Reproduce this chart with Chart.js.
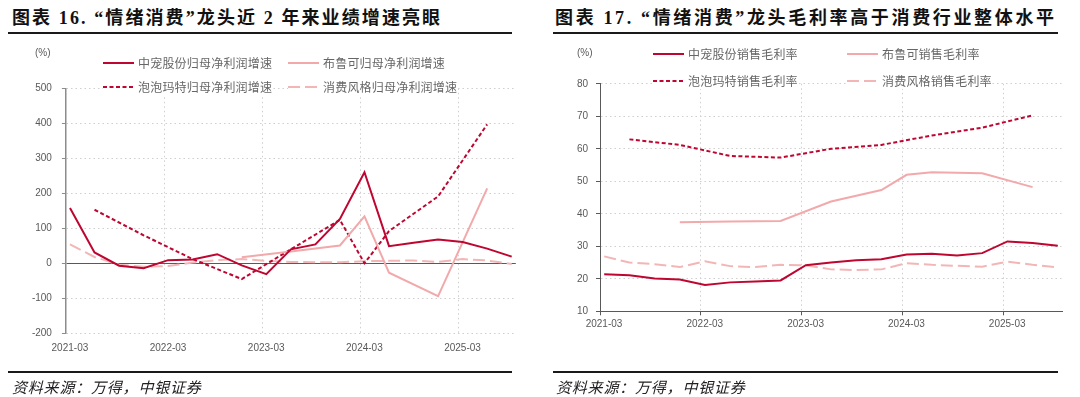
<!DOCTYPE html>
<html>
<head>
<meta charset="utf-8">
<script src="https://cdn.jsdelivr.net/npm/chart.js@4.4.1/dist/chart.umd.min.js"></script>
<style>
html, body { margin: 0; padding: 0; background: #fff; }
body { width: 1080px; height: 397px; position: relative; overflow: hidden; font-family: "Noto Sans CJK SC", sans-serif; }
.title { position: absolute; top: 6px; line-height: 24px; font-family: "Liberation Serif", "Noto Sans CJK SC", serif; font-weight: bold; font-size: 18px; letter-spacing: 2px; color: #111; white-space: nowrap; }
.rule { position: absolute; height: 2px; background: #1a1a1a; }
.source { position: absolute; top: 377px; line-height: 20px; font-style: italic; font-size: 15px; letter-spacing: 0.8px; color: #222; white-space: nowrap; }
.unit { position: absolute; top: 47px; line-height: 12px; font-family: "Liberation Sans", sans-serif; font-size: 10px; color: #595959; }
.leg { position: absolute; height: 16px; line-height: 16px; font-size: 12px; letter-spacing: 0.2px; color: #666; white-space: nowrap; display: flex; align-items: center; background: #fff; }
.leg svg { margin-right: 4px; }
canvas { position: absolute; top: 40px; }
</style>
</head>
<body>

<div class="title" style="left:12px; letter-spacing:2.1px">图表 16. “情绪消费”龙头近 2 年来业绩增速亮眼</div>
<div class="rule" style="left:8px; width:504px; top:32px"></div>
<div class="title" style="left:555px; letter-spacing:2.65px">图表 17. “情绪消费”龙头毛利率高于消费行业整体水平</div>
<div class="rule" style="left:553px; width:505px; top:32px"></div>

<canvas id="profitChart" width="540" height="332" style="left:0"></canvas>
<canvas id="marginChart" width="540" height="332" style="left:540px"></canvas>

<div class="unit" style="left:35px">(%)</div>
<div class="unit" style="left:577px">(%)</div>

<div id="profitLegend"></div>
<div id="marginLegend"></div>

<div class="rule" style="left:8px; width:504px; top:371px"></div>
<div class="source" style="left:12px">资料来源：万得，中银证券</div>
<div class="rule" style="left:553px; width:505px; top:371px"></div>
<div class="source" style="left:556px">资料来源：万得，中银证券</div>

<script>
// quarter-end reporting periods
const quarters = ['2021-03', '2021-06', '2021-09', '2021-12', '2022-03', '2022-06', '2022-09', '2022-12',
    '2023-03', '2023-06', '2023-09', '2023-12', '2024-03', '2024-06', '2024-09', '2024-12',
    '2025-03', '2025-06', '2025-09'];
const tickLabels = ['2021-03', '2022-03', '2023-03', '2024-03', '2025-03'];

// 归母净利润增速 (%)
const profitNames = ['中宠股份归母净利润增速', '布鲁可归母净利润增速', '泡泡玛特归母净利润增速', '消费风格归母净利润增速'];
const zhongchongProfit = [158, 31, -7, -14, 9, 11, 26, -6, -31, 40, 54, 127, 260, 49, 59, 68, 61, 42, 19];
const blokusProfit = [null, null, null, null, null, null, null, 17, null, 34, null, 51, 134, -27, null, -94, null, 214, null];
const popmartProfit = [null, 153, null, 80, null, 12, null, -45, null, 40, null, 124, 0, 92, null, 191, null, 397, null];
const consumerProfit = [54, 18, -4, -10, -8, 2, 9, 12, 7, 4, 3, 3, 6, 7, 8, 4, 12, 8, -2];

// 销售毛利率 (%)
const marginNames = ['中宠股份销售毛利率', '布鲁可销售毛利率', '泡泡玛特销售毛利率', '消费风格销售毛利率'];
const zhongchongMargin = [21.4, 21.1, 20.1, 19.8, 18.1, 18.9, 19.2, 19.5, 24.2, 25.0, 25.7, 26.0, 27.5, 27.7, 27.2, 27.9, 31.5, 31.0, 30.2];
const blokusMargin = [null, null, null, 37.4, null, 37.6, null, 37.8, null, 43.8, null, 47.3, 52.0, 52.8, null, 52.5, null, 48.2, null];
const popmartMargin = [null, 62.9, null, 61.2, null, 57.8, null, 57.3, null, 60.0, null, 61.2, null, 64.1, null, 66.5, null, 70.3, null];
const consumerMargin = [26.9, 25.0, 24.5, 23.6, 25.4, 23.9, 23.6, 24.3, 24.1, 22.9, 22.7, 22.9, 24.8, 24.3, 24.0, 23.7, 25.3, 24.3, 23.5];

const DARK = '#BE0630';
const PINK = '#F2A9AB';
const PINK_DASH = '#F3B6B7';
const GRID = '#cfcfcf';
const TXT = '#595959';
const styles = [
    { color: DARK, dash: [] },
    { color: PINK, dash: [] },
    { color: DARK, dash: [4, 2.5] },
    { color: PINK_DASH, dash: [12, 5] }
];

// months since 2021-03, plotted mid-month like the source chart
function monthPos(q) {
    const [y, m] = q.split('-').map(Number);
    return (y - 2021) * 12 + (m - 3) + 0.5;
}

function series(label, values, st) {
    return {
        label: label,
        data: quarters.map((q, i) => ({ x: monthPos(q), y: values[i] })),
        borderColor: st.color,
        backgroundColor: st.color,
        borderWidth: 2,
        borderDash: st.dash,
        pointRadius: 0,
        pointHoverRadius: 0,
        tension: 0,
        spanGaps: true,
        fill: false
    };
}

function xAxis(height, pad, withAxisLine) {
    return {
        type: 'linear',
        min: 0,
        max: 55,
        afterFit: s => { s.height = height; },
        ticks: {
            stepSize: 12, includeBounds: false, autoSkip: false, maxRotation: 0,
            labelOffset: 4, padding: pad, color: TXT, font: { family: 'Liberation Sans', size: 10 },
            callback: v => tickLabels[v / 12]
        },
        grid: { color: GRID, lineWidth: 1, drawTicks: withAxisLine, tickLength: 4, tickColor: '#595959', tickWidth: 1 },
        border: { display: withAxisLine, color: '#595959', width: 1, dash: [1.5, 3] }
    };
}

function yAxis(min, max, step, width, pad, axisColor, axisWidth, zeroLine) {
    return {
        min: min,
        max: max,
        afterFit: s => { s.width = width; },
        ticks: { stepSize: step, padding: pad, color: TXT, font: { family: 'Liberation Sans', size: 10 } },
        grid: {
            color: c => (zeroLine && c.tick && c.tick.value === 0) ? '#595959' : GRID,
            lineWidth: 1, drawTicks: true, tickLength: 4, tickColor: axisColor, tickWidth: 1
        },
        border: {
            display: true, color: axisColor, width: axisWidth,
            dash: c => (zeroLine && c.tick && c.tick.value === 0) ? [] : [1.5, 3]
        }
    };
}

function makeChart(id, names, values, x, y, padding) {
    return new Chart(document.getElementById(id), {
        type: 'line',
        data: { datasets: names.map((n, i) => series(n, values[i], styles[i])) },
        options: {
            responsive: false,
            animation: false,
            events: [],
            layout: { autoPadding: false, padding: padding },
            plugins: { legend: { display: false }, tooltip: { enabled: false } },
            scales: { x: x, y: y }
        }
    });
}

makeChart('profitChart', profitNames,
    [zhongchongProfit, blokusProfit, popmartProfit, consumerProfit],
    xAxis(38.7, 9, false),
    yAxis(-200, 500, 100, 65.9, 10, '#8c8c8c', 1.5, true),
    { top: 48.3, right: 24.2, left: 0, bottom: 0 });

makeChart('marginChart', marginNames,
    [zhongchongMargin, blokusMargin, popmartMargin, consumerMargin],
    xAxis(60.7, 3, true),
    yAxis(10, 80, 10, 60, 8, '#595959', 1, false),
    { top: 43.8, right: 18, left: 0, bottom: 0 });

// legends laid out 2 x 2 like the source
function legend(holderId, names, cols, rows) {
    const holder = document.getElementById(holderId);
    names.forEach((n, i) => {
        const st = styles[i];
        const item = document.createElement('div');
        item.className = 'leg';
        item.style.left = cols[i % 2] + 'px';
        item.style.top = (rows[Math.floor(i / 2)] - 8) + 'px';
        item.innerHTML = '<svg width="31" height="4"><line x1="0" y1="2" x2="31" y2="2" stroke="' + st.color +
            '" stroke-width="2" stroke-dasharray="' + (st.dash.length ? st.dash.join(' ') : 'none') + '"/></svg><span>' + n + '</span>';
        holder.appendChild(item);
    });
}
legend('profitLegend', profitNames, [103, 288], [63.3, 87.3]);
legend('marginLegend', marginNames, [653, 847], [54.3, 80.7]);
</script>
</body>
</html>
